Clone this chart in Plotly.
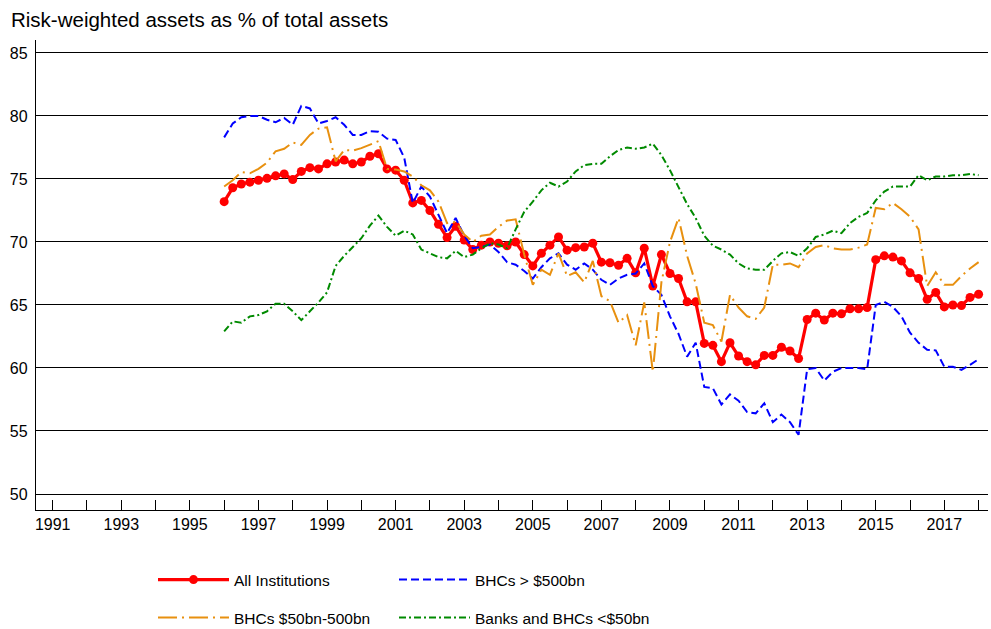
import plotly.graph_objects as go

# Quarterly observations, 1996 Q1 to 2018 Q1
quarter_labels = [f"{y}Q{q}" for y in range(1996, 2019) for q in range(1, 5)][:89]
quarters = [int(s[:4]) + (int(s[-1]) - 1) / 4 for s in quarter_labels]

all_institutions = [
    73.2, 74.3, 74.6, 74.75, 74.9, 75.05, 75.25, 75.4, 74.95, 75.6,
    75.9, 75.8, 76.2, 76.35, 76.5, 76.2, 76.35, 76.8, 77.0, 75.8,
    75.7, 74.9, 73.1, 73.3, 72.5, 71.4, 70.35, 71.25, 70.15, 69.4,
    69.75, 70.0, 69.9, 69.7, 70.0, 69.0, 68.1, 69.1, 69.75, 70.4,
    69.35, 69.55, 69.6, 69.9, 68.4, 68.35, 68.15, 68.7, 67.55, 69.5,
    66.5, 69.0, 67.5, 67.1, 65.25, 65.25, 61.95, 61.8, 60.5, 62.0,
    60.95, 60.5, 60.25, 61.0, 61.0, 61.65, 61.35, 60.75, 63.85, 64.35,
    63.8, 64.35, 64.3, 64.7, 64.7, 64.8, 68.6, 68.9, 68.8, 68.5,
    67.55, 67.1, 65.45, 66.0, 64.85, 65.0, 64.95, 65.6, 65.85,
]

bhcs_over_500bn = [
    78.3, 79.4, 79.9, 80.0, 80.0, 79.7, 79.5, 79.85, 79.3, 80.8,
    80.6, 79.4, 79.6, 79.9, 79.3, 78.5, 78.5, 78.8, 78.75, 78.2,
    78.1, 76.7, 73.1, 74.4, 73.6, 72.1, 70.7, 71.9, 70.5, 69.5,
    69.6, 69.8, 69.2, 68.4, 68.2, 67.7, 67.1, 68.0, 68.7, 69.1,
    68.2, 67.8, 68.3, 67.8, 67.0, 66.6, 67.1, 67.4, 67.5, 68.3,
    66.5, 65.8, 64.1, 62.7, 60.9, 62.0, 58.5, 58.4, 57.1, 57.9,
    57.4, 56.5, 56.4, 57.2, 55.7, 56.3, 55.7, 54.7, 59.9, 60.0,
    59.0, 59.7, 60.0, 60.0, 60.0, 59.9, 65.0, 65.25, 64.85, 64.1,
    62.8, 62.0, 61.45, 61.4, 60.1, 60.1, 59.85, 60.25, 60.7,
]

bhcs_50_500bn = [
    74.4, 74.9, 75.55, 75.45, 75.8, 76.3, 77.2, 77.4, 77.9, 77.7,
    78.5, 79.0, 79.1, 76.4, 77.3, 77.25, 77.45, 77.7, 78.0, 75.8,
    75.75, 75.6, 75.2, 74.5, 74.1, 73.2, 71.5, 71.6, 70.6, 70.0,
    70.5, 70.6, 71.2, 71.7, 71.8, 69.0, 66.6, 67.8, 67.4, 69.1,
    67.3, 67.6, 66.8, 68.5, 65.7, 65.3, 63.6, 64.2, 61.8, 65.2,
    59.7, 66.8, 70.0, 71.9, 68.9, 66.7, 63.6, 63.4, 62.1, 65.8,
    64.8, 64.1, 63.9, 64.8, 68.2, 68.2, 68.3, 68.0, 69.1, 69.6,
    69.75, 69.5, 69.4, 69.4, 69.55, 69.8, 72.7, 72.6, 73.1, 72.6,
    72.0, 71.0, 66.5, 67.6, 66.6, 66.6, 67.3, 67.9, 68.4,
]

banks_under_50bn = [
    62.9, 63.7, 63.6, 64.1, 64.2, 64.5, 65.1, 65.1, 64.5, 63.8,
    64.5, 65.2, 66.0, 68.1, 68.9, 69.6, 70.3, 71.3, 72.1, 71.2,
    70.5, 70.9, 70.6, 69.4, 69.1, 68.8, 68.7, 69.3, 68.8, 69.0,
    69.5, 69.9, 69.8, 69.5, 71.0, 72.4, 73.2, 74.1, 74.7, 74.4,
    74.8, 75.6, 76.1, 76.2, 76.2, 76.8, 77.3, 77.5, 77.4, 77.5,
    77.8, 76.9, 75.7, 74.4, 73.0, 71.9, 70.5, 69.7, 69.4, 69.0,
    68.3, 67.9, 67.8, 67.8, 68.5, 69.1, 69.2, 68.9, 69.5, 70.4,
    70.6, 70.9, 70.7, 71.5, 72.0, 72.3, 73.3, 74.0, 74.4, 74.4,
    74.4, 75.3, 74.9, 75.2, 75.2, 75.3, 75.3, 75.4, 75.3,
]

year_ticks = list(range(1991, 2019))
year_labels = [str(y) if y % 2 else "" for y in year_ticks]
y_ticks = [50, 55, 60, 65, 70, 75, 80, 85]

FONT = "Liberation Sans, Arial, sans-serif"

fig = go.Figure()

fig.add_trace(go.Scatter(
    x=quarters, y=all_institutions, name="All Institutions",
    mode="lines+markers",
    line=dict(color="#FF0000", width=3.2),
    marker=dict(color="#FF0000", size=9, symbol="circle"),
    legend="legend",
))
fig.add_trace(go.Scatter(
    x=quarters, y=bhcs_over_500bn, name="BHCs > $500bn",
    mode="lines",
    line=dict(color="#0000FF", width=2, dash="8px,4px"),
    legend="legend2",
))
fig.add_trace(go.Scatter(
    x=quarters, y=bhcs_50_500bn, name="BHCs $50bn-500bn",
    mode="lines",
    line=dict(color="#E8900F", width=2, dash="19px,5px,2px,5px"),
    legend="legend3",
))
fig.add_trace(go.Scatter(
    x=quarters, y=banks_under_50bn, name="Banks and BHCs <$50bn",
    mode="lines",
    line=dict(color="#008A00", width=2, dash="7px,3px,2px,3px"),
    legend="legend4",
))

PLOT_L, PLOT_R, PLOT_T, PLOT_B = 36, 988, 40, 510
W, H = 991, 629


def px_x(px):
    return (px - PLOT_L) / (PLOT_R - PLOT_L)


def px_y(py):
    return (PLOT_B - py) / (PLOT_B - PLOT_T)


def legend_box(left_px, center_py):
    return dict(
        x=px_x(left_px), y=px_y(center_py), xanchor="left", yanchor="middle",
        orientation="h", itemwidth=71, bgcolor="rgba(0,0,0,0)",
        font=dict(family=FONT, size=15.5, color="#000000"),
        itemclick=False, itemdoubleclick=False,
    )


fig.update_layout(
    width=W, height=H,
    margin=dict(l=PLOT_L, r=W - PLOT_R, t=PLOT_T, b=H - PLOT_B, pad=0,
                autoexpand=False),
    paper_bgcolor="#FFFFFF", plot_bgcolor="#FFFFFF",
    font=dict(family=FONT, size=16, color="#000000"),
    title=dict(
        text="Risk-weighted assets as % of total assets",
        x=11 / W, xref="container", xanchor="left",
        y=1 - 20 / H, yref="container", yanchor="middle",
        font=dict(family=FONT, size=20.5, color="#000000"),
    ),
    showlegend=True,
    legend=legend_box(153, 580),
    legend2=legend_box(394, 580),
    legend3=legend_box(153, 618),
    legend4=legend_box(394, 618),
    xaxis=dict(
        range=[1990.513, 2018.274],
        tickmode="array", tickvals=year_ticks, ticktext=year_labels,
        ticks="inside", ticklen=10, tickwidth=1.3, tickcolor="#000000",
        showline=True, linecolor="#000000", linewidth=1.3,
        showgrid=False, zeroline=False,
        tickfont=dict(family=FONT, size=16, color="#000000"),
    ),
    yaxis=dict(
        range=[48.73, 86.03],
        tickmode="array", tickvals=y_ticks,
        ticks="", ticklabelstandoff=4,
        showline=True, linecolor="#000000", linewidth=1.3,
        showgrid=True, gridcolor="#000000", gridwidth=1.3,
        zeroline=False,
        tickfont=dict(family=FONT, size=16, color="#000000"),
    ),
)

fig.write_html("out.html")
